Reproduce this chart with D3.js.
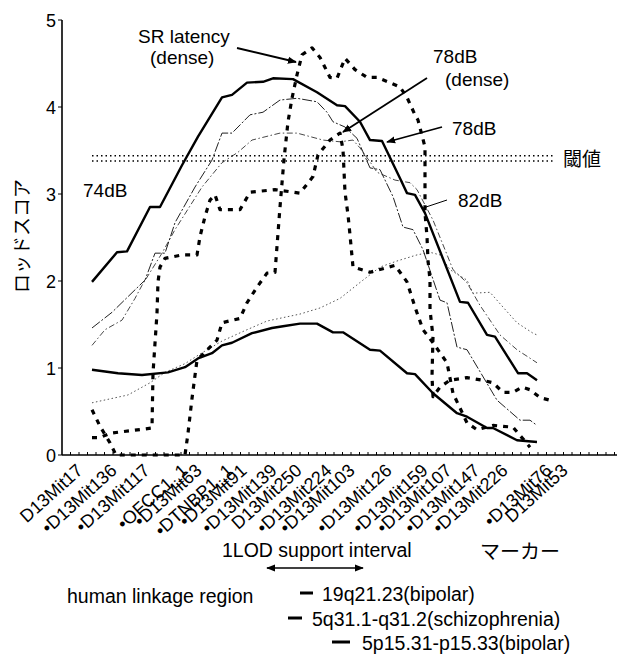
<!DOCTYPE html>
<html>
<head>
<meta charset="utf-8">
<script src="https://cdn.jsdelivr.net/npm/d3@7"></script>
<style>
    body { margin: 0; background: #fff; }
    svg { display: block; font-family: "Liberation Sans", Arial, sans-serif; }
    .jp { font-family: "Noto Sans CJK JP", sans-serif; }
</style>
</head>
<body>
<div id="chart"></div>
<script>

// markers along chromosome 13 (position in cM-like units)
var markerNames = ["D13Mit17","D13Mit136","D13Mit117","OFCC1_1","D13Mit63","DTNBP1_1","D13Mit91","D13Mit139","D13Mit250",
    "D13Mit224","D13Mit103","D13Mit126","D13Mit159","D13Mit107","D13Mit147","D13Mit226","D13Mit76","D13Mit53"];
var markerPos = [6.0,12.8,19.4,27.0,29.8,36.0,38.8,44.8,49.8,55.8,60.4,67.8,75.0,79.8,85.4,91.0,99.8,103.0];
var markerStar = [0,1,1,1,1,1,1,1,0,1,1,1,1,1,1,1,1,0];

var yTicks = [0,1,2,3,4,5];
var thresholds = [3.44, 3.38];

// 78dB (thick solid)
var solid78Pos = [6.0,11.0,13.0,17.6,19.6,24.0,27.2,32.0,34.0,37.0,40.2,42.2,46.2,51.0,55.0,56.6,59.6,61.6,64.0,67.6,69.0,70.6,72.6,79.6,81.2,85.0,86.6,91.2,93.0,95.0];
var solid78Lod = [1.99,2.33,2.34,2.85,2.85,3.33,3.66,4.11,4.14,4.28,4.29,4.33,4.32,4.17,4.02,4.01,3.83,3.62,3.61,3.18,3.01,2.99,2.78,1.76,1.75,1.38,1.36,0.94,0.94,0.86];

// lower thick solid
var solid74Pos = [6.0,11.2,16.0,21.2,24.6,27.2,30.0,32.0,34.0,38.0,42.0,44.2,47.6,51.0,54.2,56.2,61.6,63.6,69.0,70.6,74.2,79.0,81.0,85.0,86.2,91.0,95.0];
var solid74Lod = [0.98,0.94,0.92,0.95,1.01,1.11,1.17,1.26,1.29,1.40,1.46,1.48,1.51,1.51,1.41,1.41,1.21,1.20,0.94,0.93,0.71,0.48,0.44,0.31,0.31,0.17,0.15];

// thin dash-dot, upper
var dashAPos = [6.0,10.0,13.2,16.6,18.6,20.6,22.6,26.6,30.0,32.0,34.0,37.6,40.2,43.6,47.0,51.0,53.0,54.2,56.6,59.0,61.6,63.6,66.2,68.2,70.2,72.2,75.6,77.0,79.0,81.0,87.0,91.6,93.6,95.0];
var dashALod = [1.46,1.64,1.82,2.01,2.32,2.32,2.67,3.08,3.39,3.70,3.70,3.91,3.94,4.08,4.10,4.06,3.94,3.83,3.77,3.64,3.30,3.28,2.97,2.62,2.59,2.36,1.78,1.75,1.24,1.21,0.63,0.40,0.40,0.34];

// thin dash-dot, middle (82dB)
var dashBPos = [6.0,8.6,12.0,14.6,16.0,20.0,22.6,28.0,32.0,35.2,38.0,43.6,47.0,52.2,55.6,58.2,59.6,61.6,63.0,66.6,69.6,71.0,74.2,76.6,78.2,81.0,83.6,87.6,91.0,95.0];
var dashBLod = [1.26,1.44,1.55,1.80,1.95,2.32,2.59,3.08,3.36,3.48,3.62,3.70,3.70,3.62,3.60,3.62,3.53,3.37,3.25,3.16,3.13,3.05,2.70,2.36,2.13,1.98,1.72,1.38,1.21,1.06];

// thin dotted, lower
var dotCPos = [6.0,13.2,17.6,20.6,24.6,27.6,32.0,36.6,41.0,47.6,51.6,55.6,60.2,63.6,67.0,71.0,73.6,75.6,77.6,81.0,82.2,85.6,88.2,91.0,94.2,95.0];
var dotCLod = [0.60,0.69,0.83,0.95,1.05,1.16,1.31,1.43,1.54,1.62,1.69,1.80,2.01,2.16,2.23,2.30,2.33,2.30,2.13,2.01,1.86,1.87,1.70,1.52,1.40,1.38];

// SR latency (dense)
var srPos = [6.0,7.6,9.6,10.8,24.6,25.2,26.0,27.0,31.0,32.0,35.6,37.0,39.0,41.0,42.6,43.6,44.4,45.2,46.0,47.0,48.0,50.0,51.6,53.6,55.0,56.6,58.6,61.0,63.0,65.6,67.6,69.0,70.6,71.2,72.6,72.6,72.6,73.0,73.2,73.6,73.6,74.2,74.0,74.2,75.6,77.6,81.0,84.0,86.2,88.2,90.2,92.0,93.6,95.6,97.6];
var srLod = [0.52,0.33,0.14,0,0,0.25,0.65,1.09,1.32,1.52,1.57,1.75,1.93,2.09,2.10,2.85,3.40,3.83,4.10,4.37,4.60,4.68,4.57,4.34,4.33,4.56,4.43,4.34,4.34,4.28,4.23,4.11,3.91,3.85,3.54,3.08,2.78,2.51,2.24,2.01,1.67,1.36,0.90,0.67,0.78,0.86,0.89,0.86,0.83,0.72,0.72,0.78,0.75,0.66,0.63];

// 78dB (dense)
var dense78Pos = [6.0,7.6,9.6,18.0,18.2,19.0,19.2,19.6,20.6,24.0,27.0,27.6,28.6,29.6,30.6,31.6,35.6,37.6,42.6,47.6,50.2,51.2,53.6,55.6,56.2,56.6,57.2,57.6,58.2,61.6,66.6,69.0,70.6,72.2,74.2,77.0,78.2,81.0,83.0,86.2,90.2,93.6];
var dense78Lod = [0.20,0.20,0.25,0.31,0.94,1.63,1.99,2.16,2.26,2.30,2.30,2.51,2.74,2.93,2.99,2.82,2.82,3.02,3.05,3.01,3.20,3.45,3.62,3.70,3.51,3.02,2.76,2.53,2.16,2.10,2.18,1.99,1.70,1.44,1.29,1.06,0.71,0.37,0.29,0.34,0.32,0.09];

// 1LOD support interval and human linkage regions
var lodInterval = [41.0, 60.2];
var regionNames = ["19q21.23(bipolar)", "5q31.1-q31.2(schizophrenia)", "5p15.31-p15.33(bipolar)"];
var regionStart = [47.6, 45.2, 54.0];
var regionEnd = [50.2, 48.0, 57.6];


var width = 617;
var height = 655;

var svg = d3.select("#chart")
    .append("svg")
    .attr("width", width)
    .attr("height", height);

svg.append("defs").append("marker")
    .attr("id", "head")
    .attr("viewBox", "0 0 10 10")
    .attr("refX", 9)
    .attr("refY", 5)
    .attr("markerWidth", 9)
    .attr("markerHeight", 9)
    .attr("markerUnits", "userSpaceOnUse")
    .attr("orient", "auto-start-reverse")
    .append("path")
    .attr("d", "M0,1 L10,5 L0,9 Z")
    .attr("fill", "black");

var x = d3.scaleLinear().domain([0, 111]).range([62, 617]);
var y = d3.scaleLinear().domain([0, 5]).range([455, 20]);

// axes
svg.append("line")
    .attr("x1", x(0)).attr("x2", x(0))
    .attr("y1", y(5)).attr("y2", y(0))
    .attr("stroke", "black").attr("stroke-width", 1.6);

svg.append("line")
    .attr("x1", x(0)).attr("x2", x(111))
    .attr("y1", y(0)).attr("y2", y(0))
    .attr("stroke", "black").attr("stroke-width", 1.6);

svg.selectAll(".xminor")
    .data(d3.range(1.7, 111, 1.7))
    .enter()
    .append("line")
    .attr("x1", function(d){ return x(d); })
    .attr("x2", function(d){ return x(d); })
    .attr("y1", y(0))
    .attr("y2", y(0) - 3)
    .attr("stroke", "black")
    .attr("stroke-width", 1);

svg.selectAll(".ytick")
    .data(yTicks)
    .enter()
    .append("line")
    .attr("x1", x(0) - 4)
    .attr("x2", x(0))
    .attr("y1", function(d){ return y(d); })
    .attr("y2", function(d){ return y(d); })
    .attr("stroke", "black");

svg.selectAll(".ylabel")
    .data(yTicks)
    .enter()
    .append("text")
    .attr("x", x(0) - 6)
    .attr("y", function(d){ return y(d) + 6.5; })
    .attr("text-anchor", "end")
    .attr("font-size", "18px")
    .text(function(d){ return d; });

svg.append("text")
    .attr("class", "jp")
    .attr("transform", "translate(29,236) rotate(-90)")
    .attr("text-anchor", "middle")
    .attr("font-size", "19px")
    .text("ロッドスコア");

// marker names
svg.selectAll(".marker")
    .data(markerNames)
    .enter()
    .append("text")
    .attr("transform", function(d, i){ return "translate(" + (x(markerPos[i]) - 8) + ",472) rotate(-42)"; })
    .attr("text-anchor", "end")
    .attr("font-size", "18px")
    .text(function(d, i){ return (markerStar[i] ? "\u2022" : "") + d; });

// threshold
svg.selectAll(".thr")
    .data(thresholds)
    .enter()
    .append("line")
    .attr("x1", x(6))
    .attr("x2", x(98.6))
    .attr("y1", function(d){ return y(d); })
    .attr("y2", function(d){ return y(d); })
    .attr("stroke", "black")
    .attr("stroke-width", 1.4)
    .attr("stroke-dasharray", "1.5,3");

svg.append("text")
    .attr("class", "jp")
    .attr("x", 563)
    .attr("y", 166)
    .attr("font-size", "19px")
    .text("閾値");

// curves
var line = d3.line()
    .x(function(d){ return x(d[0]); })
    .y(function(d){ return y(d[1]); });

function drawCurve(pos, lod, width, dash, color) {
    svg.append("path")
        .datum(d3.zip(pos, lod))
        .attr("d", line)
        .attr("fill", "none")
        .attr("stroke", color)
        .attr("stroke-width", width)
        .attr("stroke-dasharray", dash)
        .attr("stroke-linejoin", "round");
}

drawCurve(dotCPos, dotCLod, 1, "1.5,2.5", "#555");
drawCurve(dashBPos, dashBLod, 0.9, "6,2.5,1.5,2.5", "#333");
drawCurve(dashAPos, dashALod, 1, "10,2,2,2", "#222");
drawCurve(solid74Pos, solid74Lod, 2.4, null, "black");
drawCurve(solid78Pos, solid78Lod, 2.4, null, "black");
drawCurve(dense78Pos, dense78Lod, 3.2, "5,6", "black");
drawCurve(srPos, srLod, 3.2, "5,6", "black");

// labels and arrows
function label(tx, ty, str, size) {
    svg.append("text")
        .attr("x", tx)
        .attr("y", ty)
        .attr("font-size", size || "19px")
        .text(str);
}

function arrow(x1, y1, x2, y2, head) {
    var l = svg.append("line")
        .attr("x1", x1).attr("y1", y1)
        .attr("x2", x2).attr("y2", y2)
        .attr("stroke", "black")
        .attr("stroke-width", head ? 1.8 : 1);
    if (head) l.attr("marker-end", "url(#head)");
    return l;
}

label(138, 43, "SR latency");
label(150, 64, "(dense)");
arrow(237, 48, 296, 62, true);

label(433, 63, "78dB");
label(445, 86, "(dense)");
arrow(427, 78, 343, 132, true);

label(452, 135, "78dB");
arrow(442, 127, 387, 142, true);

label(458, 207, "82dB");
arrow(447, 200, 423, 208, false);

label(83, 197, "74dB");

// bottom annotations
svg.append("text")
    .attr("x", 222)
    .attr("y", 557)
    .attr("font-size", "19.5px")
    .text("1LOD support interval");

arrow(x(lodInterval[0]), 568, x(lodInterval[1]), 568, true)
    .attr("stroke-width", 1.4)
    .attr("marker-start", "url(#head)");

svg.append("text")
    .attr("class", "jp")
    .attr("x", 480)
    .attr("y", 559)
    .attr("font-size", "20px")
    .text("マーカー");

label(67, 603, "human linkage region", "19.5px");

var regionY = [593, 618, 642];
var regionTextX = [322, 312, 362];

svg.selectAll(".region")
    .data(regionNames)
    .enter()
    .append("line")
    .attr("x1", function(d, i){ return x(regionStart[i]); })
    .attr("x2", function(d, i){ return x(regionEnd[i]); })
    .attr("y1", function(d, i){ return regionY[i]; })
    .attr("y2", function(d, i){ return regionY[i]; })
    .attr("stroke", "black")
    .attr("stroke-width", 3);

svg.selectAll(".regionText")
    .data(regionNames)
    .enter()
    .append("text")
    .attr("x", function(d, i){ return regionTextX[i]; })
    .attr("y", function(d, i){ return regionY[i] + 8; })
    .attr("font-size", "19.5px")
    .text(function(d){ return d; });

</script>
</body>
</html>
